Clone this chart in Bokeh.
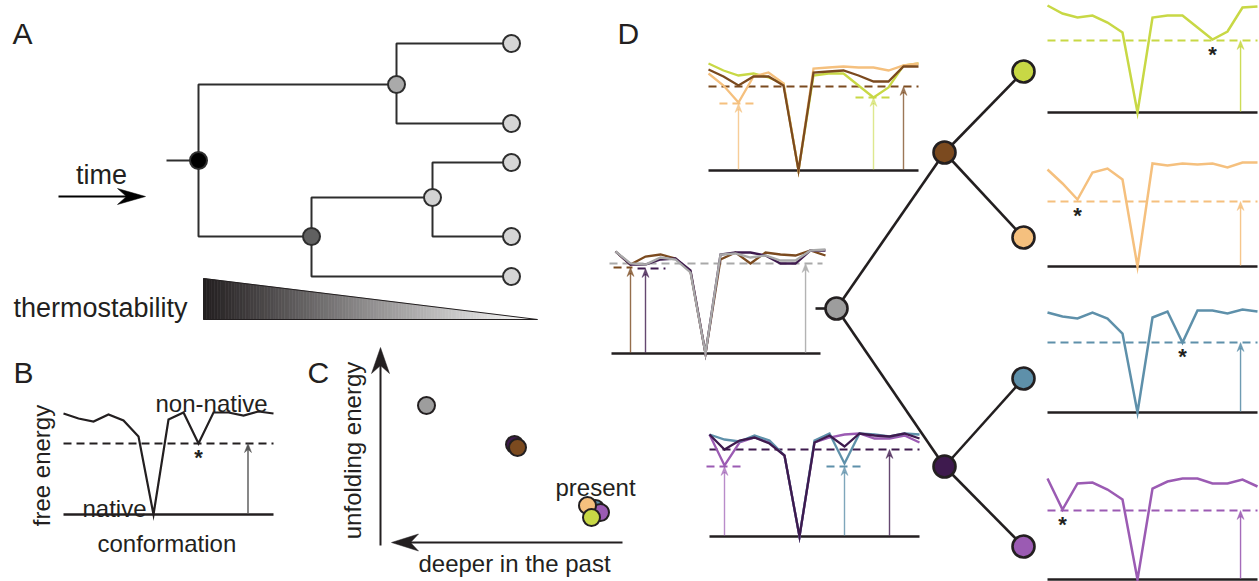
import numpy as np
from bokeh.plotting import figure
from bokeh.models import Range1d
from bokeh.core.properties import value
from bokeh.embed import file_html
from bokeh.resources import INLINE

W, H = 1259, 581
FONT = "Liberation Sans"
INK = "#231f20"

# ---------------- colours ----------------
C_GRAY = "#9d9d9d"
C_BROWN = "#7b4a1f"
C_DPURPLE = "#3e1a4e"
C_GREEN = "#c8d845"
C_ORANGE = "#f5c07e"
C_BLUE = "#5e90aa"
C_PURPLE = "#9b5bb3"

# ---------------- Panel A : tree ----------------
A_NODE_X = [198, 396, 311, 432, 511, 511, 511, 511, 511]
A_NODE_Y = [160, 84, 236, 197, 43, 123, 162, 236, 276]
A_PARENT = [-1, 0, 0, 2, 1, 1, 3, 3, 2]
A_NODE_FILL = ["#000000", "#aaaaaa", "#606060", "#d2d2d2",
               "#d6d6d6", "#d6d6d6", "#d6d6d6", "#d6d6d6", "#d6d6d6"]
A_STEM_X = [166, 198]
TIME_ARROW_X = [58, 145]
TIME_ARROW_Y = 196
THERMO_X = [203, 537]
THERMO_TOP_Y = [278, 319]
THERMO_BASE_Y = 319

# ---------------- landscapes (energy above native, per conformation) ----------------
STEP = 15
B_LAND = [101, 96, 93, 100, 94, 78, 0, 95, 102, 71, 102, 102, 99, 103, 101]

LEAF_GREEN = [107, 99, 95, 97, 90, 80, 0, 95, 97, 97, 85, 73, 81, 105, 106]
LEAF_ORANGE = [97, 83, 67, 94, 98, 87, 0, 103, 101, 103, 102, 103, 99, 104, 104]
LEAF_BLUE = [100, 96, 94, 100, 94, 79, 0, 95, 101, 70, 102, 102, 99, 103, 101]
LEAF_PURPLE = [101, 70, 96, 97, 90, 80, 0, 91, 98, 101, 101, 96, 96, 100, 93]

BR_GREEN = [107, 100, 95, 97, 93, 87, 0, 95, 97, 97, 85, 73, 83, 105, 107]
BR_ORANGE = [97, 85, 68, 94, 98, 87, 0, 102, 103, 104, 103, 103, 100, 105, 107]
BR_BROWN = [101, 94, 85, 94, 94, 85, 0, 98, 99, 100, 95, 89, 89, 104, 104]

GR_BROWN = [102, 89, 97, 99, 95, 82, 0, 94, 101, 90, 101, 99, 98, 103, 98]
GR_DPURPLE = [102, 89, 89, 94, 95, 83, 0, 99, 101, 101, 98, 90, 90, 103, 103]
GR_GRAY = [102, 90, 89, 96, 94, 81, 0, 99, 100, 96, 98, 93, 93, 103, 104]

DP_LPURPLE = [102, 71, 94, 99, 94, 81, 0, 94, 99, 102, 103, 98, 98, 101, 94]
DP_BLUE = [102, 97, 95, 101, 96, 81, 0, 96, 103, 73, 103, 102, 100, 103, 102]
DP_DPURPLE = [102, 87, 96, 99, 93, 81, 0, 94, 101, 90, 103, 101, 100, 103, 98]

# ---------------- Panel C : unfolding energy vs depth ----------------
C_PT_X = [426, 514, 517, 595, 600, 587, 591]
C_PT_Y = [405, 444, 447, 508, 512, 505, 517]
C_PT_COL = [C_GRAY, C_DPURPLE, C_BROWN, C_BLUE, C_PURPLE, C_ORANGE, C_GREEN]

# ---------------- Panel D : tree ----------------
D_NODE_X = [836, 944, 944, 1023, 1023, 1023, 1023]
D_NODE_Y = [308, 152, 466, 71, 237, 378, 546]
D_PARENT = [-1, 0, 0, 1, 1, 2, 2]
D_NODE_COL = [C_GRAY, C_BROWN, C_DPURPLE, C_GREEN, C_ORANGE, C_BLUE, C_PURPLE]
D_STEM_X = [815, 836]

p = figure(width=W, height=H, x_range=Range1d(0, W), y_range=Range1d(H, 0),
           output_backend="svg", toolbar_location=None,
           x_axis_location=None, y_axis_location=None, min_border=0)
p.outline_line_color = None
p.grid.visible = False
p.background_fill_color = "white"
p.border_fill_color = "white"


def arrow(x0, y0, x1, y1, color, lw, L, Wd, notch, alpha=1.0):
    dx, dy = x1 - x0, y1 - y0
    n = np.hypot(dx, dy)
    ux, uy = dx / n, dy / n
    px, py = -uy, ux
    bx, by = x1 - L * ux, y1 - L * uy
    mx, my = x1 - (L - notch) * ux, y1 - (L - notch) * uy
    p.line([x0, mx + 0.5 * ux], [y0, my + 0.5 * uy], line_color=color,
           line_width=lw, line_alpha=alpha)
    p.patch([x1, bx + Wd / 2 * px, mx, bx - Wd / 2 * px],
            [y1, by + Wd / 2 * py, my, by - Wd / 2 * py],
            fill_color=color, line_color=color, line_width=0.5,
            fill_alpha=alpha, line_alpha=alpha)


def text(x, y, s, size, align="left", baseline="alphabetic", angle=0.0, color=INK,
         style="normal"):
    p.text(x=[x], y=[y], text=[s], text_font=value(FONT), text_font_size=f"{size}px",
           text_align=align, text_baseline=baseline, angle=angle, text_color=color,
           text_font_style=style)


def inset(x0, base, bx, curves, full, shorts, arrows, curve_w=2.3, dash_w=2.0):
    p.line(bx, [base, base], line_color=INK, line_width=2.6)
    for (lev, i0, i1, col) in [full] + shorts:
        p.line([x0 + STEP * i0, x0 + STEP * i1], [base - lev, base - lev],
               line_color=col, line_width=dash_w, line_dash="8 5")
    for (idx, lev, col, al) in arrows:
        ax = x0 + STEP * idx
        arrow(ax, base - 1, ax, base - lev, col, 1.4, 9, 7, 3, alpha=al)
    for (en, col) in curves:
        xs = [x0 + STEP * i for i in range(len(en))]
        ys = [base - e for e in en]
        p.line(xs, ys, line_color=col, line_width=curve_w, line_join="miter")


# ================= Panel A =================
edges_x, edges_y = [], []
for c, par in enumerate(A_PARENT):
    if par < 0:
        continue
    edges_x.append([A_NODE_X[par], A_NODE_X[par], A_NODE_X[c]])
    edges_y.append([A_NODE_Y[par], A_NODE_Y[c], A_NODE_Y[c]])
edges_x.append(A_STEM_X)
edges_y.append([A_NODE_Y[0], A_NODE_Y[0]])
p.multi_line(edges_x, edges_y, line_color="#2e2e2e", line_width=2.0)
p.scatter(A_NODE_X, A_NODE_Y, size=17, fill_color=A_NODE_FILL,
          line_color="#2e2e2e", line_width=2.0)

arrow(TIME_ARROW_X[0], TIME_ARROW_Y, TIME_ARROW_X[1], TIME_ARROW_Y, "#000000", 2.0, 28, 16, 9)
text(101, 174, "time", 27, align="center")

# gradient triangle
N = 120
xe = np.linspace(THERMO_X[0], THERMO_X[1], N + 1)
ty = np.interp(xe, THERMO_X, THERMO_TOP_Y)
sx, sy, cols = [], [], []
for i in range(N):
    sx.append([xe[i], xe[i + 1], xe[i + 1], xe[i]])
    sy.append([ty[i], ty[i + 1], THERMO_BASE_Y, THERMO_BASE_Y])
    t = (i + 0.5) / N
    r = int(0x23 + t * (0xff - 0x23))
    g = int(0x1f + t * (0xff - 0x1f))
    b = int(0x20 + t * (0xff - 0x20))
    cols.append(f"#{r:02x}{g:02x}{b:02x}")
p.patches(sx, sy, fill_color=cols, line_color=cols, line_width=0.6)
p.patch([THERMO_X[0], THERMO_X[1], THERMO_X[0]],
        [THERMO_TOP_Y[0], THERMO_BASE_Y, THERMO_BASE_Y],
        fill_color=None, line_color=INK, line_width=1.0)
text(13, 307, "thermostability", 27)
text(12, 33, "A", 30)

# ================= Panel B =================
inset(63, 514, [63, 273], [(B_LAND, INK)], (71, 0, 14, INK), [],
      [(12.3, 71, "#555555", 1.0)], curve_w=2.2, dash_w=1.8)
text(198, 443 + 14, "*", 22, align="center", style="bold")
text(13, 372, "B", 30)
text(155, 403, "non-native", 24)
text(82, 508, "native", 24)
text(97, 543, "conformation", 24)
text(41, 465, "free energy", 24, align="center", baseline="middle", angle=np.pi / 2)

# ================= Panel C =================
arrow(380, 545, 380, 347, INK, 2.0, 26, 18, 8)
arrow(622, 542, 391, 542, INK, 2.0, 27, 17, 8)
p.scatter(C_PT_X, C_PT_Y, size=17, fill_color=C_PT_COL, line_color=INK, line_width=2.0)
text(307, 372, "C", 30)
text(352, 450, "unfolding energy", 24, align="center", baseline="middle", angle=np.pi / 2)
text(514, 563, "deeper in the past", 24, align="center", baseline="middle")
text(555, 487, "present", 24)

# ================= Panel D =================
dx_, dy_ = [], []
for c, par in enumerate(D_PARENT):
    if par < 0:
        continue
    dx_.append([D_NODE_X[par], D_NODE_X[c]])
    dy_.append([D_NODE_Y[par], D_NODE_Y[c]])
dx_.append(D_STEM_X)
dy_.append([D_NODE_Y[0], D_NODE_Y[0]])
p.multi_line(dx_, dy_, line_color=INK, line_width=2.6)
p.scatter(D_NODE_X, D_NODE_Y, size=22, fill_color=D_NODE_COL, line_color=INK, line_width=2.6)
text(617, 33, "D", 30)

# ancestral insets
inset(708, 170, [708, 918],
      [(BR_GREEN, C_GREEN), (BR_ORANGE, C_ORANGE), (BR_BROWN, C_BROWN)],
      (84, 0, 14, C_BROWN),
      [(73, 9.8, 12.3, C_GREEN), (67, 0.73, 3.27, C_ORANGE)],
      [(2, 67, C_ORANGE, 0.8), (11, 73, C_GREEN, 0.6), (13, 84, C_BROWN, 0.75)])
inset(615, 353, [611, 820],
      [(GR_BROWN, C_BROWN), (GR_DPURPLE, C_DPURPLE), (GR_GRAY, "#a9a9a9")],
      (90, -0.4, 13.8, "#a9a9a9"),
      [(86, -0.13, 1.13, C_BROWN), (85, 1.47, 3.33, C_DPURPLE)],
      [(1, 86, C_BROWN, 0.8), (2, 85, C_DPURPLE, 0.8), (12.67, 90, "#b3b3b3", 1.0)])
inset(709, 536, [709, 919],
      [(DP_LPURPLE, C_PURPLE), (DP_BLUE, C_BLUE), (DP_DPURPLE, C_DPURPLE)],
      (87, 0, 14, C_DPURPLE),
      [(70, -0.2, 2.27, C_PURPLE), (70, 7.8, 10.27, C_BLUE)],
      [(1, 70, C_PURPLE, 0.7), (9, 70, C_BLUE, 0.8), (12, 87, C_DPURPLE, 0.8)])

# present-day insets
LEAVES = [(LEAF_GREEN, C_GREEN, 112, 72, 11),
          (LEAF_ORANGE, C_ORANGE, 266, 65, 2),
          (LEAF_BLUE, C_BLUE, 412, 70, 9),
          (LEAF_PURPLE, C_PURPLE, 579, 69, 1)]
for en, col, base, lev, imin in LEAVES:
    inset(1047, base, [1047, 1257], [(en, col)], (lev, 0, 14, col), [],
          [(12.87, lev, col, 0.9)], curve_w=2.5)
    text(1047 + STEP * imin, base - lev + 14, "*", 22, align="center", style="bold")

open("out.html", "w").write(file_html(p, INLINE))
